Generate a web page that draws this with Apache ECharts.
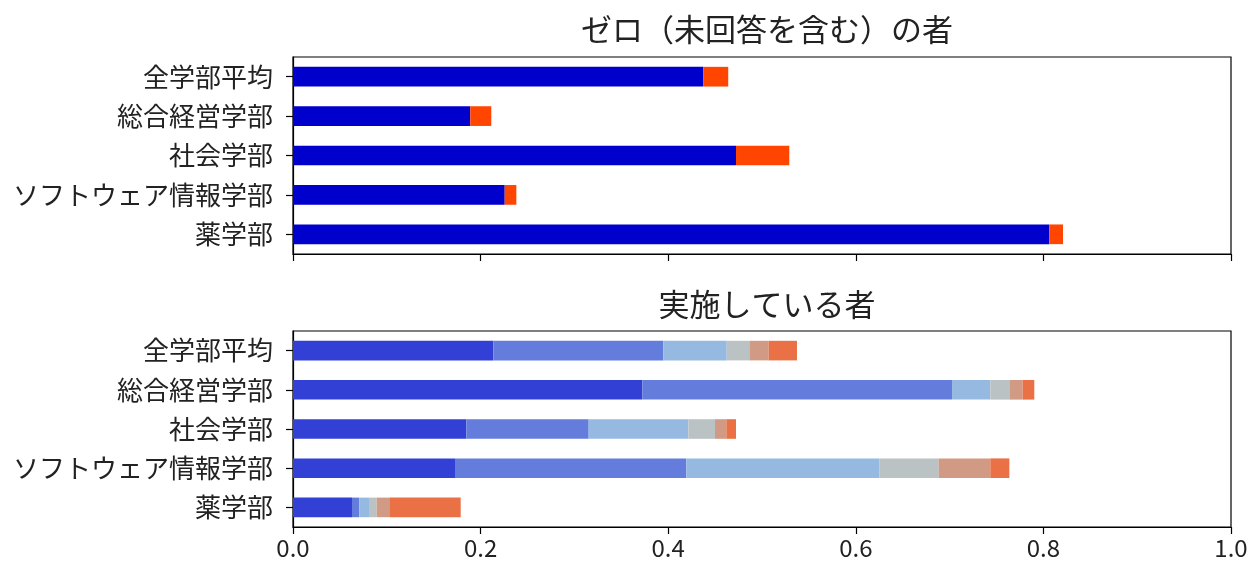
<!DOCTYPE html>
<html>
<head>
<meta charset="utf-8">
<script src="https://cdn.jsdelivr.net/npm/echarts@6/dist/echarts.min.js"></script>
<style>
  html, body { margin: 0; padding: 0; background: #fff; }
  #chart { width: 1253px; height: 568px; }
</style>
</head>
<body>
<div id="chart"></div>
<script>
const categories = ['全学部平均', '総合経営学部', '社会学部', 'ソフトウェア情報学部', '薬学部'];
const xTicks = [0, 0.2, 0.4, 0.6, 0.8, 1.0];

// ゼロ（未回答を含む）の者
const zeroMain = [0.4375, 0.189, 0.4723, 0.2257, 0.8063];
const zeroNoAnswer = [0.0265, 0.0224, 0.0568, 0.0124, 0.0146];

// 実施している者 (6 段階)
const doing1 = [0.2136, 0.3724, 0.1848, 0.1727, 0.0629];
const doing2 = [0.1812, 0.3302, 0.1304, 0.2466, 0.0078];
const doing3 = [0.0676, 0.0408, 0.1063, 0.2057, 0.0103];
const doing4 = [0.0241, 0.0203, 0.0284, 0.0634, 0.0082];
const doing5 = [0.0206, 0.0142, 0.0121, 0.0550, 0.0142];
const doing6 = [0.0302, 0.0124, 0.0103, 0.0203, 0.0754];

const FONT = '"Noto Sans CJK JP", "Noto Sans", sans-serif';
const TEXT = '#222';
const zeroColors = ['#0000cc', '#ff4500'];
const doingColors = ['#3340d6', '#647ddc', '#96b9e2', '#bbc2c4', '#d19a84', '#e97145'];

const left = 293, right = 22;

const valueAxis = (gridIndex, showLabel) => ({
  type: 'value',
  gridIndex,
  min: xTicks[0],
  max: xTicks[xTicks.length - 1],
  interval: 0.2,
  splitLine: { show: false },
  axisLine: { show: true, lineStyle: { color: '#000', width: 1.2 } },
  axisTick: { show: true, length: 7, lineStyle: { color: '#000', width: 1.2 } },
  axisLabel: {
    show: showLabel,
    color: TEXT,
    fontFamily: FONT,
    fontSize: 24,
    margin: 9,
    formatter: v => v.toFixed(1),
  },
});

const catAxis = gridIndex => ({
  type: 'category',
  gridIndex,
  data: categories,
  inverse: true,
  axisLine: { show: true, lineStyle: { color: '#000', width: 1.2 } },
  axisTick: { show: true, length: 7, alignWithLabel: true, lineStyle: { color: '#000', width: 1.2 } },
  axisLabel: { color: TEXT, fontFamily: FONT, fontSize: 26, margin: 20 },
});

const bar = (name, data, color, stack, axisIndex) => ({
  name,
  type: 'bar',
  stack,
  xAxisIndex: axisIndex,
  yAxisIndex: axisIndex,
  data,
  barWidth: '50%',
  itemStyle: { color },
  silent: true,
});

const chart = echarts.init(document.getElementById('chart'));
chart.setOption({
  backgroundColor: '#fff',
  animation: false,
  title: [
    {
      text: 'ゼロ（未回答を含む）の者',
      left: 762, top: 9, textAlign: 'center',
      textStyle: { color: TEXT, fontFamily: FONT, fontSize: 31, fontWeight: 'normal' },
    },
    {
      text: '実施している者',
      left: 762, top: 284, textAlign: 'center',
      textStyle: { color: TEXT, fontFamily: FONT, fontSize: 31, fontWeight: 'normal' },
    },
  ],
  grid: [
    { left, right, top: 57, height: 197, show: true, borderColor: '#000', borderWidth: 1.2 },
    { left, right, top: 331, height: 196, show: true, borderColor: '#000', borderWidth: 1.2 },
  ],
  xAxis: [valueAxis(0, false), valueAxis(1, true)],
  yAxis: [catAxis(0), catAxis(1)],
  series: [
    bar('zero1', zeroMain, zeroColors[0], 'zero', 0),
    bar('zero2', zeroNoAnswer, zeroColors[1], 'zero', 0),
    bar('d1', doing1, doingColors[0], 'doing', 1),
    bar('d2', doing2, doingColors[1], 'doing', 1),
    bar('d3', doing3, doingColors[2], 'doing', 1),
    bar('d4', doing4, doingColors[3], 'doing', 1),
    bar('d5', doing5, doingColors[4], 'doing', 1),
    bar('d6', doing6, doingColors[5], 'doing', 1),
  ],
});
</script>
</body>
</html>
